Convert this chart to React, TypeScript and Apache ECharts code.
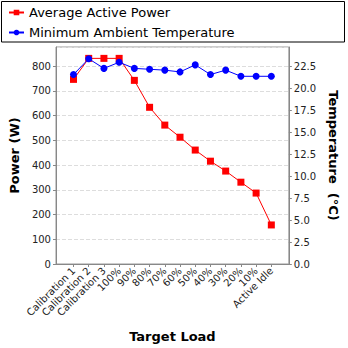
import React, { useEffect, useRef } from "react";
import * as echarts from "echarts";

const categories = [
  "Calibration 1", "Calibration 2", "Calibration 3", "100%", "90%", "80%", "70%",
  "60%", "50%", "40%", "30%", "20%", "10%", "Active Idle",
];
const powerValues = [747, 832, 832, 832, 743, 634, 562, 513, 461, 416, 376, 331, 287, 158];
const temperatureValues = [21.6, 23.4, 22.3, 23.0, 22.3, 22.2, 22.1, 21.9, 22.7, 21.6, 22.1, 21.4, 21.4, 21.4];

const FONT = "DejaVu Sans";

export default function App() {
  const ref = useRef<HTMLDivElement>(null);
  useEffect(() => {
    if (!ref.current) return;
    const chart = echarts.init(ref.current, undefined, { renderer: "svg" });
    const idx = categories.map((_, i) => i);
    chart.setOption({
      animation: false,
      textStyle: { fontFamily: FONT },
      grid: { left: 53, right: 56, top: 47, bottom: 84, show: true, borderColor: "#999", borderWidth: 1 },
      legend: {
        orient: "vertical",
        left: 3,
        top: 1,
        itemWidth: 15,
        itemHeight: 7,
        itemGap: 7,
        textStyle: { fontSize: 13, color: "#000", fontFamily: FONT },
        data: ["Average Active Power", "Minimum Ambient Temperature"],
      },
      graphic: [
        {
          type: "rect",
          shape: { x: 1.5, y: 1.5, width: 343, height: 40.5 },
          style: { fill: "none", stroke: "#000", lineWidth: 1 },
        },
      ],
      xAxis: {
        type: "value",
        min: -1.15,
        max: 14.15,
        name: "Target Load",
        nameLocation: "middle",
        nameGap: 66,
        nameTextStyle: { fontSize: 13, fontWeight: "bold", color: "#000", fontFamily: FONT },
        splitLine: { show: false },
        axisLine: { onZero: false, lineStyle: { color: "#888" } },
        axisTick: { customValues: idx, length: 3, lineStyle: { color: "#888" } },
        axisLabel: {
          customValues: idx,
          rotate: 45,
          fontSize: 10,
          color: "#222",
          margin: 5,
          formatter: (v: number) => categories[Math.round(v)] ?? "",
        },
      },
      yAxis: [
        {
          type: "value",
          min: 0,
          max: 878,
          interval: 100,
          name: "Power (W)",
          nameLocation: "middle",
          nameRotate: 90,
          nameGap: 26,
          nameTextStyle: { fontSize: 13, fontWeight: "bold", color: "#000", fontFamily: FONT },
          axisLine: { show: true, onZero: false, lineStyle: { color: "#888" } },
          axisTick: { show: true, length: 3, lineStyle: { color: "#888" } },
          axisLabel: { fontSize: 10, color: "#222", margin: 5, showMaxLabel: false },
          splitLine: { show: true, lineStyle: { color: "#ddd", type: "dashed", width: 1 } },
        },
        {
          type: "value",
          min: 0,
          max: 24.74,
          interval: 2.5,
          position: "right",
          name: "Temperature  (°C)",
          nameLocation: "middle",
          nameRotate: -90,
          nameGap: 27,
          nameTextStyle: { fontSize: 13, fontWeight: "bold", color: "#000", fontFamily: FONT },
          axisLine: { show: true, onZero: false, lineStyle: { color: "#888" } },
          axisTick: { show: true, length: 3, lineStyle: { color: "#888" } },
          axisLabel: {
            fontSize: 10,
            color: "#222",
            margin: 5,
            showMaxLabel: false,
            formatter: (v: number) => v.toFixed(1),
          },
          splitLine: { show: false },
        },
      ],
      series: [
        {
          name: "Average Active Power",
          type: "line",
          yAxisIndex: 0,
          data: powerValues.map((v, i) => [i, v]),
          symbol: "rect",
          symbolSize: 7,
          color: "#ff0000",
          lineStyle: { width: 1, color: "#ff0000" },
          itemStyle: { color: "#ff0000" },
          z: 2,
        },
        {
          name: "Minimum Ambient Temperature",
          type: "line",
          yAxisIndex: 1,
          data: temperatureValues.map((v, i) => [i, v]),
          symbol: "circle",
          symbolSize: 7,
          color: "#0000ff",
          lineStyle: { width: 1, color: "#0000ff" },
          itemStyle: { color: "#0000ff" },
          z: 3,
        },
      ],
    });
    return () => chart.dispose();
  }, []);
  return (
    <div
      ref={ref}
      style={{ position: "fixed", left: 0, top: 0, width: 348, height: 348, background: "#fff" }}
    />
  );
}
